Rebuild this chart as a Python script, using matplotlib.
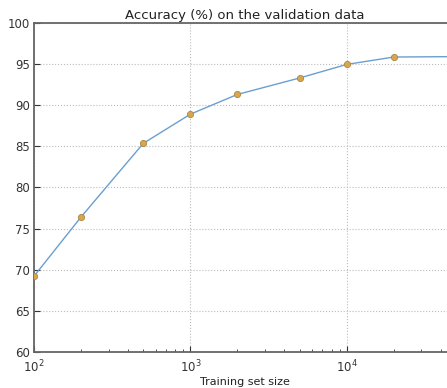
import matplotlib
matplotlib.use("Agg")
import matplotlib.pyplot as plt

training_sizes = [100, 200, 500, 1000, 2000, 5000, 10000, 20000, 50000]
accuracy = [69.2, 76.4, 85.35, 88.9, 91.3, 93.3, 94.95, 95.85, 95.9]

fig = plt.figure(figsize=(4.47, 3.88), dpi=100)
ax = fig.add_axes([0.076, 0.093, 0.944, 0.848])

ax.plot(training_sizes, accuracy, color="#6a9fd0", linewidth=1.0, zorder=2)
ax.plot(training_sizes, accuracy, "o", color="#d9a54e", markeredgecolor="#a88a40",
        markersize=4.5, markeredgewidth=0.6, zorder=3)

ax.set_xscale("log")
ax.set_xlim(100, 50000)
ax.set_ylim(60, 100)
ax.set_yticks(range(60, 101, 5))
ax.grid(True, which="major", linestyle=":", color="#bbbbbb", linewidth=0.8)
ax.set_axisbelow(True)

ax.tick_params(direction="in", which="both", labelsize=8.5, colors="#333333")
ax.tick_params(axis="y", pad=3)
ax.tick_params(axis="x", pad=5)
ax.tick_params(which="major", length=4)
ax.tick_params(which="minor", length=2)
for side in ("left", "bottom", "top", "right"):
    ax.spines[side].set_color("#666666")
    ax.spines[side].set_linewidth(1.3)

ax.set_title("Accuracy (%) on the validation data", fontsize=9.5, color="#222222", pad=3)
ax.set_xlabel("Training set size", fontsize=8, color="#222222", labelpad=1)

fig.savefig("out.png", dpi=100)
